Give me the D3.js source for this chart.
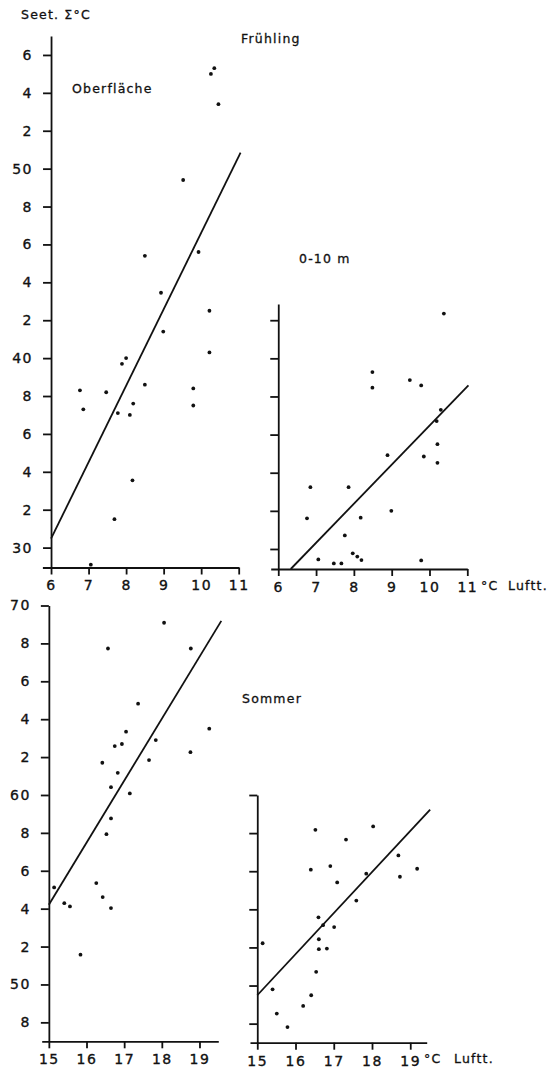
<!DOCTYPE html>
<html>
<head>
<meta charset="utf-8">
<script src="https://cdn.jsdelivr.net/npm/d3@7"></script>
<style>
  html, body { margin: 0; padding: 0; background: #fff; }
  svg { display: block; }
  .axis path, .axis line { stroke: #111; stroke-width: 1.8; }
  .axis text { font-family: 'DejaVu Sans', sans-serif; font-size: 14px; fill: #111; stroke: #111; stroke-width: 0.35; letter-spacing: 1.5px; }
  .lbl { font-family: 'DejaVu Sans', sans-serif; font-size: 12.5px; fill: #111; stroke: #111; stroke-width: 0.3; letter-spacing: 1.2px; }
</style>
</head>
<body>
<div id="chart"></div>
<script>
// Frühling, Oberfläche
const fruehOberLuft = [10.26, 10.35, 10.46, 9.52, 8.50, 9.93, 8.93, 10.22, 8.99, 10.22, 8.00, 7.89,
  6.77, 7.47, 8.50, 9.79, 9.79, 6.86, 7.78, 8.19, 8.10, 8.17, 7.69, 7.06];
const fruehOberSee = [55.0, 55.3, 53.4, 49.4, 45.4, 45.6, 43.45, 42.5, 41.4, 40.3, 40.0, 39.7,
  38.3, 38.2, 38.6, 38.4, 37.5, 37.3, 37.1, 37.6, 37.0, 33.55, 31.5, 29.1];
const fruehOberReg = [[6, 30.47], [11.05, 50.85]];

// Frühling, 0-10 m
const fruehTiefLuft = [10.38, 8.49, 8.49, 9.48, 9.78, 10.30, 10.19, 10.21, 10.21, 9.85, 8.89, 6.85,
  7.86, 6.76, 8.18, 8.99, 7.76, 7.97, 8.09, 8.20, 7.06, 7.47, 7.67, 9.78];
const fruehTiefSee = [42.35, 39.28, 38.46, 38.86, 38.58, 37.30, 36.71, 35.50, 34.52, 34.85, 34.92, 33.24,
  33.24, 31.61, 31.64, 32.0, 30.71, 29.77, 29.6, 29.42, 29.45, 29.24, 29.24, 29.4];
const fruehTiefReg = [[6.33, 28.95], [11.03, 38.58]];

// Sommer, Oberfläche
const sommerOberLuft = [18.06, 16.57, 18.77, 17.37, 19.26, 17.05, 16.75, 16.94, 17.84, 18.76, 16.42, 17.66,
  16.83, 16.65, 17.15, 16.65, 16.53, 15.14, 16.26, 15.41, 15.56, 16.43, 16.65, 15.84];
const sommerOberSee = [69.09, 67.73, 67.73, 64.82, 63.50, 63.34, 62.58, 62.69, 62.90, 62.26, 61.70, 61.84,
  61.17, 60.41, 60.08, 58.76, 57.93, 55.12, 55.35, 54.29, 54.12, 54.61, 54.03, 51.57];
const sommerOberReg = [[15, 54.21], [19.58, 69.19]];

// Sommer, 0-10 m
const sommerTiefLuft = [16.52, 18.03, 17.32, 18.69, 16.40, 16.91, 19.18, 17.85, 18.73, 17.09, 17.59, 16.60,
  16.72, 17.01, 16.61, 16.61, 16.82, 15.14, 16.54, 15.40, 16.41, 15.51, 16.20, 15.79];
const sommerTiefSee = [58.17, 58.35, 57.66, 56.83, 56.08, 56.27, 56.13, 55.87, 55.71, 55.41, 54.46, 53.58,
  53.17, 53.07, 52.43, 51.91, 51.94, 52.22, 50.72, 49.80, 49.49, 48.53, 48.93, 47.82];
const sommerTiefReg = [[15, 49.49], [19.52, 59.23]];

const fruehXTicks = [6, 7, 8, 9, 10, 11];
const fruehYTicks = [30, 32, 34, 36, 38, 40, 42, 44, 46, 48, 50, 52, 54, 56];
const fruehTiefYTicks = [30, 32, 34, 36, 38, 40, 42];
const sommerXTicks = [15, 16, 17, 18, 19];
const sommerYTicks = [48, 50, 52, 54, 56, 58, 60, 62, 64, 66, 68, 70];
const sommerTiefYTicks = [48, 50, 52, 54, 56, 58, 60];

const W = 552, H = 1071;
const svg = d3.select('#chart').append('svg').attr('width', W).attr('height', H);

// only the last digit is written, except on the tens
const yFmt = (d) => (d % 10 === 0 ? String(d) : String(d % 10));

function panel(o) {
  const x = d3.scaleLinear().domain(o.xDom).range(o.xRange);
  const y = d3.scaleLinear().domain(o.yDom).range(o.yRange);
  const g = svg.append('g');

  g.append('g')
    .attr('class', 'axis')
    .attr('transform', `translate(0,${o.yRange[0]})`)
    .call(d3.axisBottom(x).tickValues(o.xTicks).tickSize(7).tickSizeOuter(0).tickPadding(6).tickFormat(d3.format('d')));

  g.append('g')
    .attr('class', 'axis')
    .attr('transform', `translate(${x(o.xTicks[0])},0)`)
    .call(
      d3.axisLeft(y).tickValues(o.yTicks).tickSize(8).tickSizeOuter(0).tickPadding(10)
        .tickFormat(o.yLabels ? yFmt : () => '')
    );

  g.append('path')
    .datum(o.reg)
    .attr('fill', 'none')
    .attr('stroke', '#111')
    .attr('stroke-width', 1.8)
    .attr('d', d3.line().x((d) => x(d[0])).y((d) => y(d[1])));

  g.selectAll('circle')
    .data(o.luft.map((v, i) => [v, o.see[i]]))
    .join('circle')
    .attr('cx', (d) => x(d[0]))
    .attr('cy', (d) => y(d[1]))
    .attr('r', 1.9)
    .attr('fill', '#111');
}

panel({
  xDom: [5.77, 11], xRange: [42.4, 238.7],
  yDom: [28.95, 57], yRange: [567.5, 36],
  xTicks: fruehXTicks, yTicks: fruehYTicks, yLabels: true,
  luft: fruehOberLuft, see: fruehOberSee, reg: fruehOberReg
});
panel({
  xDom: [5.8, 11], xRange: [270.7, 467.3],
  yDom: [28.95, 42.85], yRange: [569, 304],
  xTicks: fruehXTicks, yTicks: fruehTiefYTicks, yLabels: false,
  luft: fruehTiefLuft, see: fruehTiefSee, reg: fruehTiefReg
});
panel({
  xDom: [14.81, 19.5], xRange: [41.7, 218.3],
  yDom: [47, 70], yRange: [1041.3, 605.5],
  xTicks: sommerXTicks, yTicks: sommerYTicks, yLabels: true,
  luft: sommerOberLuft, see: sommerOberSee, reg: sommerOberReg
});
panel({
  xDom: [14.81, 19.43], xRange: [250, 426.7],
  yDom: [47, 60], yRange: [1042.7, 795],
  xTicks: sommerXTicks, yTicks: sommerTiefYTicks, yLabels: false,
  luft: sommerTiefLuft, see: sommerTiefSee, reg: sommerTiefReg
});

const labels = [
  { t: 'Seet. Σ°C', x: 21, y: 19 },
  { t: 'Frühling', x: 241, y: 43 },
  { t: 'Oberfläche', x: 72, y: 92.5 },
  { t: '0-10 m', x: 299, y: 262.5 },
  { t: 'Sommer', x: 242, y: 702.5 },
  { t: '°C', x: 481, y: 590 },
  { t: 'Luftt.', x: 508, y: 590 },
  { t: '°C', x: 424, y: 1063 },
  { t: 'Luftt.', x: 454, y: 1063 }
];
svg.selectAll('text.lbl')
  .data(labels)
  .join('text')
  .attr('class', 'lbl')
  .attr('x', (d) => d.x)
  .attr('y', (d) => d.y)
  .text((d) => d.t);
</script>
</body>
</html>
